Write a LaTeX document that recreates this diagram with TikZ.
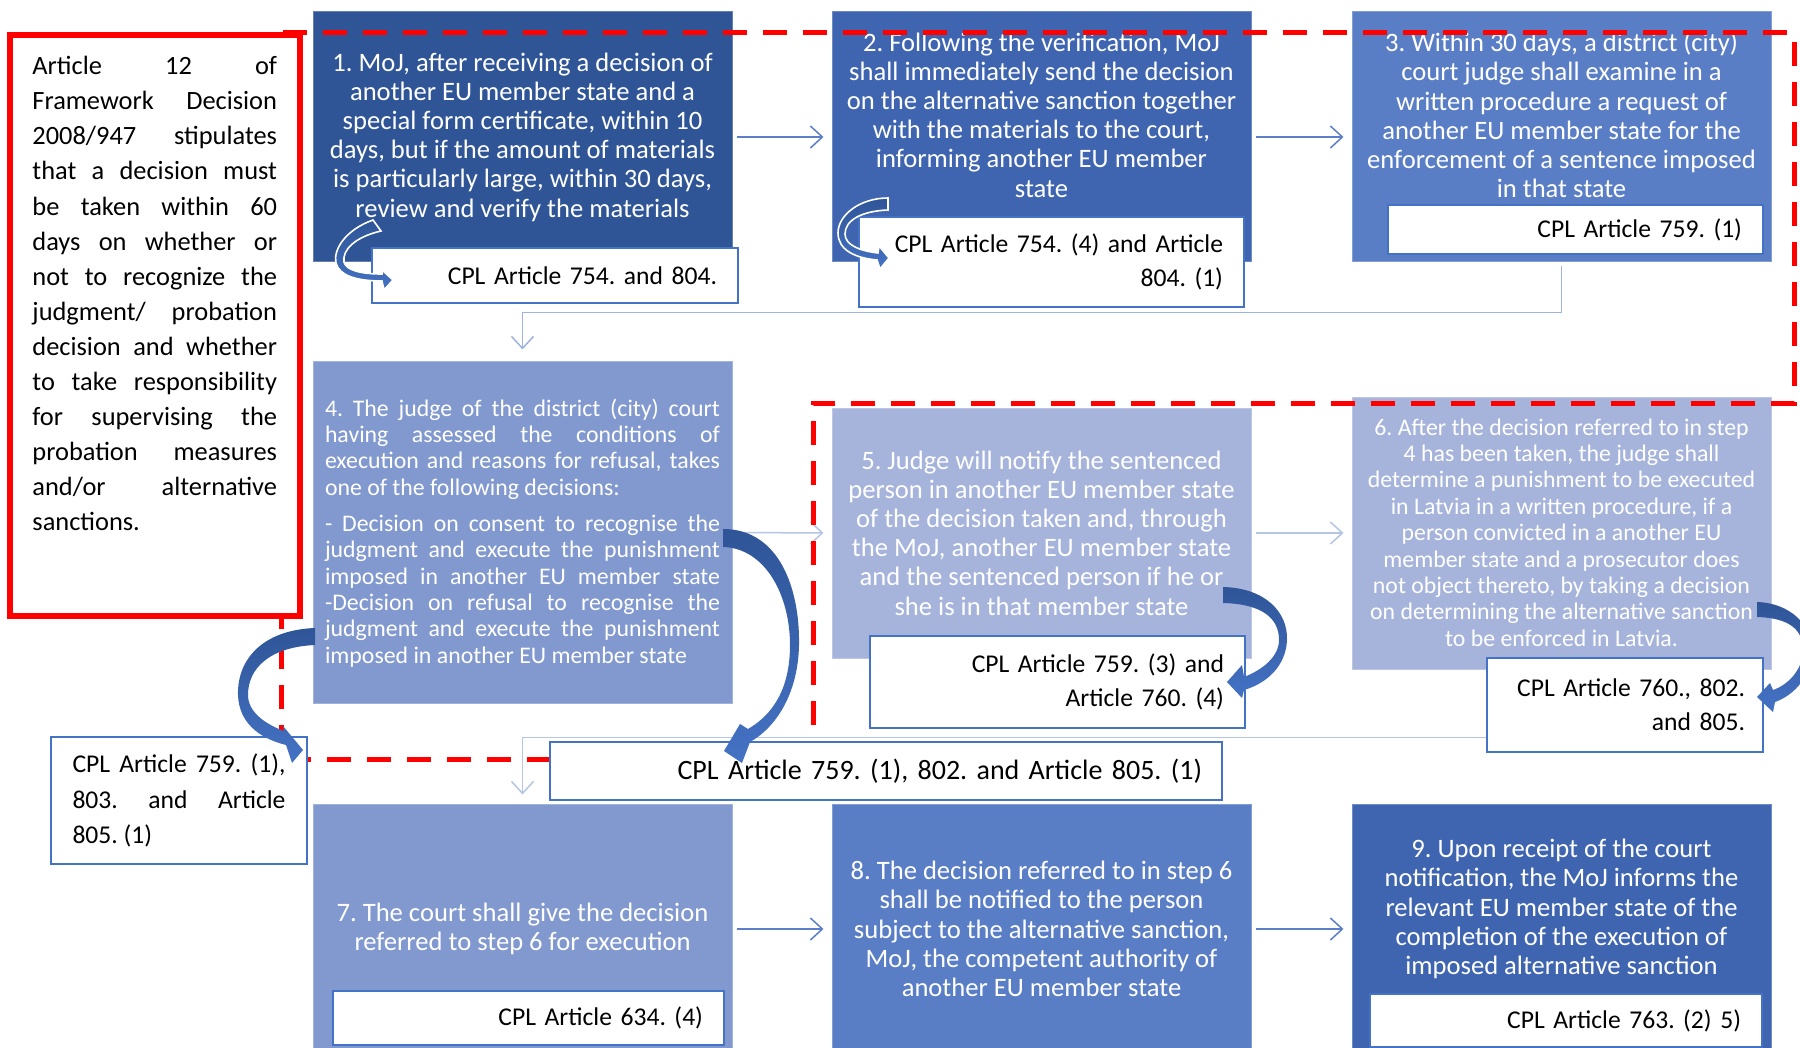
\documentclass[tikz,border=0pt]{standalone}
\usepackage{fontspec}
\setmainfont{Carlito}
\usetikzlibrary{arrows.meta}
\definecolor{cA}{HTML}{2F5597}
\definecolor{cB}{HTML}{3F65B1}
\definecolor{cC}{HTML}{5A7EC5}
\definecolor{cD}{HTML}{8299CF}
\definecolor{cE}{HTML}{A6B4DC}
\definecolor{cplblue}{HTML}{4472C4}
\definecolor{arrlt}{HTML}{4472C4}
\definecolor{connA}{HTML}{5B7FCB}
\definecolor{connB}{HTML}{B4C5E6}
\definecolor{connC}{HTML}{9DB3E0}
\definecolor{redc}{HTML}{FF0000}
\newcommand\myjust[2]{\makebox[#1][s]{#2}}
\frenchspacing
\begin{document}
\begin{tikzpicture}[x=0.5pt,y=-0.5pt,
  mbox/.style={draw=#1!75!white, fill=#1, line width=0.5pt, inner sep=0pt, minimum width=209.5pt},
  wtxt/.style={text=white, align=center, inner sep=0pt, font=\fontsize{13.3}{14.6}\selectfont},
  cpl/.style={draw=cplblue, fill=white, line width=1.2pt, inner xsep=10.5pt, inner ysep=0pt, align=right, font=\fontsize{12.8}{17.2}\selectfont},
  conn/.style={line width=0.75pt, -{Straight Barb[length=6pt,width=11pt]}, shorten <=2pt, shorten >=4pt},
  reddash/.style={draw=redc, line width=2.5pt, dash pattern=on 12pt off 8pt},
  carrow/.style={top color=cA, bottom color=arrlt},
  sarrow/.style={top color=cA, bottom color=arrlt, draw=white, line width=0.8pt}
]
\useasboundingbox (0,0) rectangle (1800,1048);
\clip (0,0) rectangle (1800,1048);
\fill[white] (0,0) rectangle (1800,1048);

% main boxes
\node[mbox=cA, minimum height=125pt] (b1) at (522.5,137) {};
\node[mbox=cB, minimum height=125pt] (b2) at (1041.5,137) {};
\node[mbox=cC, minimum height=125pt] (b3) at (1561.5,137) {};
\node[mbox=cD, minimum height=170.5pt] (b4) at (522.5,532.5) {};
\node[mbox=cE, minimum height=125pt] (b5) at (1041.5,533) {};
\node[mbox=cE, minimum height=136pt] (b6) at (1561.5,533) {};
\node[mbox=cD, minimum height=125pt] (b7) at (522.5,929) {};
\node[mbox=cC, minimum height=125pt] (b8) at (1041.5,929) {};
\node[mbox=cB, minimum height=125pt] (b9) at (1561.5,929) {};

% texts
\node[wtxt] (t1) at (522.5,137) {1. MoJ, after receiving a decision of\\another EU member state and a\\special form certificate, within 10\\days, but if the amount of materials\\is particularly large, within 30 days,\\review and verify the materials};
\node[wtxt] (t2) at (1041.5,115) {2. Following the verification, MoJ\\shall immediately send the decision\\on the alternative sanction together\\with the materials to the court,\\informing another EU member\\state};
\node[wtxt] (t3) at (1561.5,115) {3. Within 30 days, a district (city)\\court judge shall examine in a\\written procedure a request of\\another EU member state for the\\enforcement of a sentence imposed\\in that state};
\node[wtxt, align=left, font=\fontsize{11.9}{13.2}\selectfont] (t4) at (522.5,533) {\myjust{197.5pt}{4. The judge of the district (city) court}\\\myjust{197.5pt}{having assessed the conditions of}\\\myjust{197.5pt}{execution and reasons for refusal, takes}\\one of the following decisions:\\[4.8pt]\myjust{197.5pt}{- Decision on consent to recognise the}\\\myjust{197.5pt}{judgment and execute the punishment}\\\myjust{197.5pt}{imposed in another EU member state}\\\myjust{197.5pt}{-Decision on refusal to recognise the}\\\myjust{197.5pt}{judgment and execute the punishment}\\imposed in another EU member state};
\node[wtxt] (t5) at (1041.5,533) {5. Judge will notify the sentenced\\person in another EU member state\\of the decision taken and, through\\the MoJ, another EU member state\\and the sentenced person if he or\\she is in that member state};
\node[wtxt, font=\fontsize{11.9}{13.2}\selectfont] (t6) at (1561.5,532.5) {6. After the decision referred to in step\\4 has been taken, the judge shall\\determine a punishment to be executed\\in Latvia in a written procedure, if a\\person convicted in a another EU\\member state and a prosecutor does\\not object thereto, by taking a decision\\on determining the alternative sanction\\to be enforced in Latvia.};
\node[wtxt] (t7) at (522.5,929) {7. The court shall give the decision\\referred to step 6 for execution};
\node[wtxt] (t8) at (1041.5,929) {8. The decision referred to in step 6\\shall be notified to the person\\subject to the alternative sanction,\\MoJ, the competent authority of\\another EU member state};
\node[wtxt] (t9) at (1561.5,909) {9. Upon receipt of the court\\notification, the MoJ informs the\\relevant EU member state of the\\completion of the execution of\\imposed alternative sanction};

% red box
\node[draw=redc, line width=3pt, fill=white, minimum width=145pt, minimum height=290.25pt, inner sep=0pt] (rb) at (155,325.75) {};
\node[align=left, inner sep=0pt, font=\fontsize{13.2}{17.55}\selectfont] (rt) at (154.75,293.7) {\myjust{122.3pt}{Article 12 of}\\\myjust{122.3pt}{Framework Decision}\\\myjust{122.3pt}{2008/947 stipulates}\\\myjust{122.3pt}{that a decision must}\\\myjust{122.3pt}{be taken within 60}\\\myjust{122.3pt}{days on whether or}\\\myjust{122.3pt}{not to recognize the}\\\myjust{122.3pt}{judgment/ probation}\\\myjust{122.3pt}{decision and whether}\\\myjust{122.3pt}{to take responsibility}\\\myjust{122.3pt}{for supervising the}\\\myjust{122.3pt}{probation measures}\\\myjust{122.3pt}{and/or alternative}\\sanctions.};

% connectors
\draw[conn, draw=connA] (b1.east) -- (b2.west);
\draw[conn, draw=connA] (b2.east) -- (b3.west);
\draw[conn, draw=connC, shorten >=6pt] (b3.south) -- ++(0,50) -| (b4.north);
\draw[conn, draw=connB] (b4.east) -- (b5.west);
\draw[conn, draw=connB] (b5.east) -- (b6.west);
\draw[conn, draw=connB, shorten >=4.5pt] (b6.south) -- ++(0,68) -| (b7.north);
\draw[conn, draw=connA] (b7.east) -- (b8.west);
\draw[conn, draw=connA] (b8.east) -- (b9.west);

% red dashed boundary
\draw[reddash] (283,33) -- (1794,33) -- (1794,403) -- (813,403) -- (813,759) -- (281,759) -- (281,618);

% CPL boxes
\node[cpl, text width=162pt, minimum height=27.5pt] (c1) at (555,275.5) {CPL Article 754. and 804.};
\node[cpl, text width=171.5pt, minimum height=45pt] (c2) at (1051.5,262) {CPL Article 754. (4) and Article\\804. (1)};
\node[cpl, text width=166.5pt, minimum height=24.5pt] (c3) at (1575.5,229.5) {CPL Article 759. (1)};
\node[cpl, text width=166.5pt, minimum height=46pt] (c5) at (1057.5,682) {CPL Article 759. (3) and\\Article 760. (4)};
\node[cpl, text width=120pt, inner xsep=9pt, minimum height=47pt] (c6) at (1625,705) {CPL Article 760., 802.\\and 805.};
\node[cpl, align=left, minimum width=128pt, inner xsep=0pt, minimum height=63.5pt, font=\fontsize{12.8}{17.75}\selectfont] (cl) at (179,800.5) {\myjust{106.5pt}{CPL Article 759. (1),}\\\myjust{106.5pt}{803. and Article}\\805. (1)};
\node[cpl, text width=316pt, inner xsep=10pt, minimum height=29pt, font=\fontsize{14}{17.6}\selectfont] (cbig) at (886,771) {CPL Article 759. (1), 802. and Article 805. (1)};
\node[cpl, text width=174.5pt, minimum height=27pt] (c7) at (528.5,1018) {CPL Article 634. (4)};
\node[cpl, text width=175pt, minimum height=26.5pt] (c9) at (1566,1020.5) {CPL Article 763. (2) 5)};

% curved block arrows
\shade[sarrow] (373,220) .. controls (345,230) and (333,250) .. (336,263) .. controls (339,275) and (355,281) .. (382,281) -- (384,290) -- (393,280) -- (382,270) -- (382,274) .. controls (360,274) and (346,270) .. (344,262) .. controls (342,250) and (355,237) .. (381,231) -- cycle;
\shade[sarrow] (888,198) .. controls (860,198) and (838,215) .. (838,233) .. controls (838,250) and (855,258) .. (877,260) -- (880,269) -- (889,258) -- (879,246) -- (878,253) .. controls (860,251) and (845,245) .. (845,234) .. controls (845,220) and (862,211) .. (888,210) -- cycle;
\shade[carrow] (723,529) .. controls (780,529) and (800,590) .. (799,645) .. controls (798,695) and (775,728) .. (750,742) -- (742,763) -- (724,751) -- (740,724) -- (748,729) .. controls (772,715) and (790,690) .. (790,645) .. controls (790,595) and (765,548) .. (723,547) -- cycle;
\shade[carrow] (315,628) .. controls (262,630) and (237,660) .. (238,695) .. controls (239,722) and (258,738) .. (286,745) -- (292,763) -- (303,750) -- (283,726) -- (284,731) .. controls (265,724) and (248,712) .. (248,695) .. controls (248,668) and (270,647) .. (315,645) -- cycle;
\shade[carrow] (1223,587) .. controls (1265,588) and (1288,612) .. (1287,640) .. controls (1286,665) and (1268,683) .. (1244,690) -- (1242,698) -- (1227,682) -- (1242,665) -- (1244,677) .. controls (1262,670) and (1279,657) .. (1279,640) .. controls (1279,618) and (1262,604) .. (1223,603) -- cycle;
\shade[carrow] (1757,602) .. controls (1790,603) and (1812,625) .. (1812,650) .. controls (1812,675) and (1795,695) .. (1775,702) -- (1773,712) -- (1757,697) -- (1770,683) -- (1773,690) .. controls (1790,684) and (1803,668) .. (1803,650) .. controls (1803,630) and (1790,618) .. (1757,617) -- cycle;
\end{tikzpicture}
\end{document}
